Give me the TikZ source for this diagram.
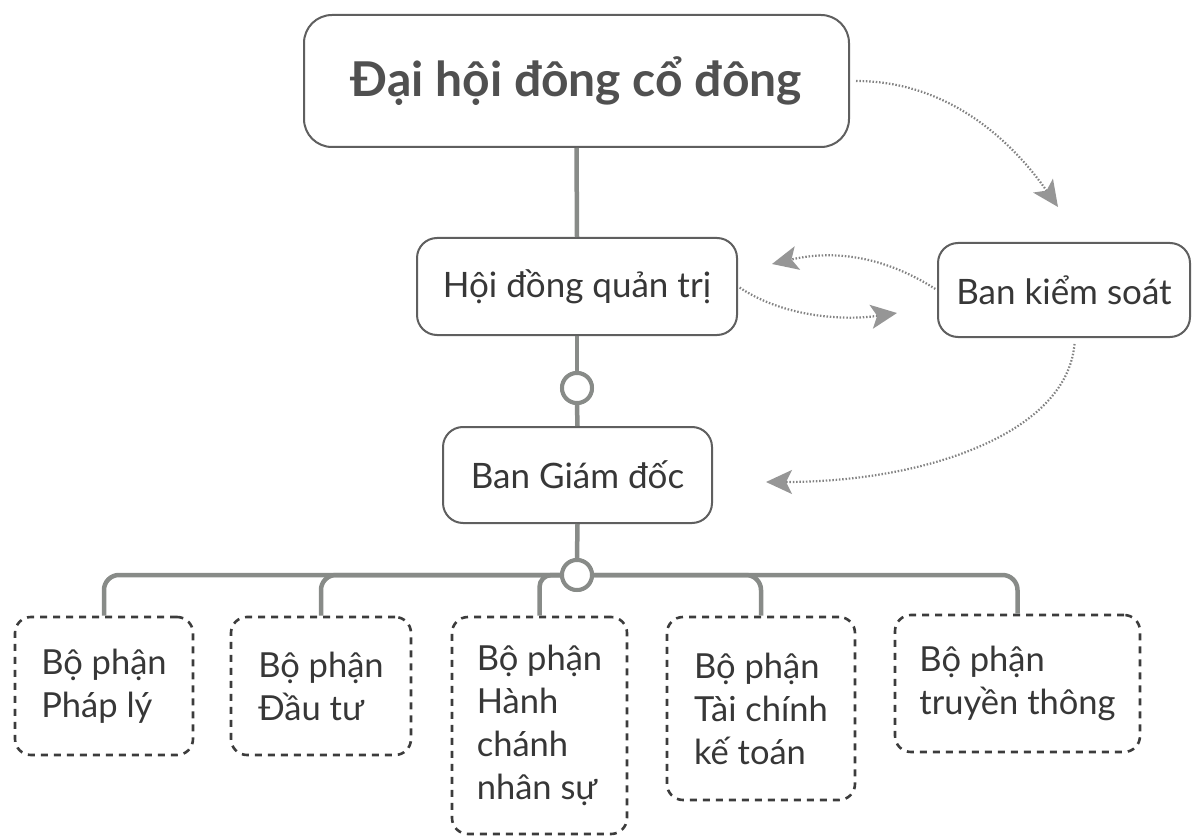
\documentclass[tikz,border=0pt]{standalone}
\usepackage{fontspec}
\setmainfont{Lato}
\usetikzlibrary{arrows.meta}
\definecolor{conncol}{RGB}{136,139,136}
\definecolor{boxcol}{RGB}{95,95,95}
\definecolor{dashcol}{RGB}{60,60,60}
\definecolor{dotcol}{RGB}{130,130,130}
\definecolor{tipcol}{RGB}{150,150,150}
\definecolor{txtcol}{RGB}{55,55,55}
\definecolor{titlecol}{RGB}{80,80,80}
\tikzset{
  solidbox/.style={draw=boxcol, line width=2pt, rounded corners=20pt, fill=white,
    text=txtcol, font=\fontsize{35}{42}\selectfont, inner sep=0pt},
  titlebox/.style={solidbox, rounded corners=28pt, text=titlecol,
    font=\fontsize{48}{54}\selectfont\bfseries},
  dbox/.style={draw=dashcol, line width=2.6pt, dash pattern=on 7pt off 6pt,
    rounded corners=16pt, align=left, text=txtcol,
    font=\fontsize{34.5}{43}\selectfont, inner sep=0pt},
  conn/.style={draw=conncol, line width=4.5pt},
  hub/.style={circle, draw=conncol, line width=4pt, fill=white, minimum size=30pt, inner sep=0pt},
  dotarrow/.style={draw=dotcol, line width=2.2pt, dash pattern=on 1.5pt off 1.8pt,
    -{Stealth[length=26pt, width=24pt, inset=6pt, color=tipcol]}},
}
\begin{document}
\begin{tikzpicture}[x=1pt, y=-1pt]
\useasboundingbox (0,0) rectangle (1195,837);
% main nodes
\node[titlebox, minimum width=545pt, minimum height=132pt] (top) at (576.5,81) {Đại hội đông cổ đông};
\node[solidbox, minimum width=320pt, minimum height=97pt] (hdqt) at (577,286.5) {Hội đồng quản trị};
\node[solidbox, minimum width=252pt, minimum height=94pt] (bks) at (1064,290) {Ban kiểm soát};
\node[solidbox, minimum width=269pt, minimum height=96pt] (bgd) at (577.5,475) {Ban Giám đốc};
\node[hub] (c1) at (577,388) {};
\node[hub] (c2) at (577,575) {};
% department boxes
\node[dbox, minimum width=178pt, minimum height=138pt] (b1) at (104,686) {Bộ phận\\Pháp lý};
\node[dbox, minimum width=180pt, minimum height=138pt] (b2) at (321,686) {Bộ phận\\Đầu tư};
\node[dbox, minimum width=175pt, minimum height=217pt] (b3) at (539.5,725.5) {Bộ phận\\Hành\\chánh\\nhân sự};
\node[dbox, minimum width=188pt, minimum height=183pt] (b4) at (761,708.5) {Bộ phận\\Tài chính\\kế toán};
\node[dbox, minimum width=245pt, minimum height=137pt] (b5) at (1017.5,683.5) {Bộ phận\\truyền thông};
% solid connectors
\draw[conn] (top.south) -- (hdqt.north);
\draw[conn] (hdqt.south) -- (c1.north);
\draw[conn] (c1.south) -- (bgd.north);
\draw[conn] (bgd.south) -- (c2.north);
\draw[conn, rounded corners=15pt] (c2.west) -| (b1.north);
\draw[conn, rounded corners=15pt] (c2.west) -| (b2.north);
\draw[conn, rounded corners=12pt] (c2.west) -| (b3.north);
\draw[conn, rounded corners=15pt] (c2.east) -| (b4.north);
\draw[conn, rounded corners=15pt] (c2.east) -| (b5.north);
\node[hub] (c1b) at (c1) {};
\node[hub] (c2b) at (c2) {};
% dotted arrows
\coordinate (tA) at (1058,207);
\coordinate (tB) at (772,264);
\coordinate (tC) at (897,313);
\coordinate (tD) at (766,482);
\coordinate (sD) at ([xshift=11pt]bks.south);
\draw[dotarrow, shorten <=6pt] (top.east) .. controls +(110,0) and +(-35,-50) .. (tA);
\draw[dotarrow, shorten <=2pt] (bks.west) .. controls +(-55,-35) and +(60,-14) .. (tB);
\draw[dotarrow, shorten <=2pt] (hdqt.east) .. controls +(45,30) and +(-55,8) .. (tC);
\draw[dotarrow, shorten <=6pt] (sD) .. controls +(-8,95) and +(160,0) .. (tD);
\end{tikzpicture}
\end{document}
